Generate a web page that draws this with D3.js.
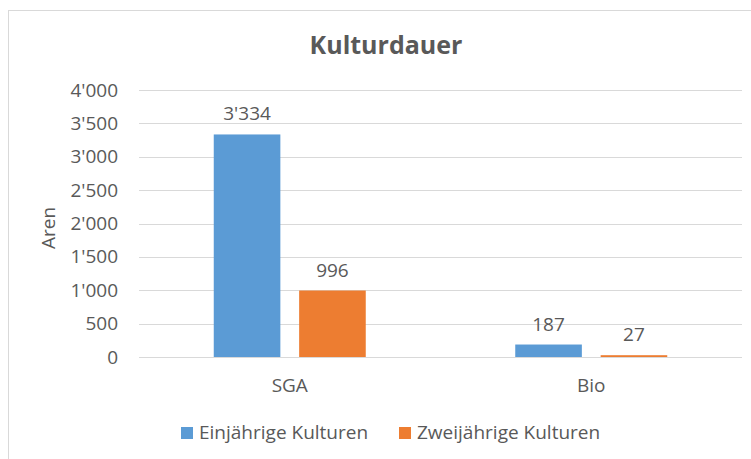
<!DOCTYPE html>
<html>
<head>
<meta charset="utf-8">
<script src="https://cdn.jsdelivr.net/npm/d3@7"></script>
<style>
  body { margin: 0; background: #fff; }
  text { font-family: "Open Sans", "Noto Sans", sans-serif; fill: #595959; }
</style>
</head>
<body>
<div id="chart"></div>
<script>
// Kulturdauer – Aren pro Kulturtyp

var categories = ["SGA", "Bio"];
var seriesNames = ["Einjährige Kulturen", "Zweijährige Kulturen"];
var einjaehrig = [3334, 187];
var zweijaehrig = [996, 27];
var yTicks = [0, 500, 1000, 1500, 2000, 2500, 3000, 3500, 4000];

var colors = ["#5b9bd5", "#ed7d31"];
var fmt = function(v) { return d3.format(",")(v).replace(/,/g, "'"); };

var width = 751, height = 459;
var margin = {top: 90, right: 9, bottom: 102, left: 139};
var fontSize = "19px";

var svg = d3.select("#chart").append("svg")
    .attr("width", width)
    .attr("height", height);

// frame
svg.append("rect")
    .attr("x", 8.5).attr("y", 10.5)
    .attr("width", 800).attr("height", 500)
    .style("fill", "none")
    .style("stroke", "#d9d9d9")
    .style("stroke-width", 1);

var x0 = d3.scaleBand()
    .domain(categories)
    .range([margin.left, width - margin.right]);

var x1 = d3.scaleBand()
    .domain(seriesNames)
    .range([0, 152])
    .paddingInner(0.22);

var y = d3.scaleLinear()
    .domain([0, 4000])
    .range([height - margin.bottom, margin.top]);

// gridlines
svg.append("g")
    .selectAll("line")
    .data(yTicks)
    .enter().append("line")
    .attr("x1", margin.left)
    .attr("x2", width - margin.right)
    .attr("y1", function(d) { return Math.round(y(d)) + 0.5; })
    .attr("y2", function(d) { return Math.round(y(d)) + 0.5; })
    .style("stroke", "#d9d9d9")
    .style("stroke-width", 1);

// y axis
var yAxis = svg.append("g")
    .attr("transform", "translate(" + (margin.left - 21) + ",0)")
    .call(d3.axisLeft(y).tickValues(yTicks).tickSize(0).tickPadding(0).tickFormat(fmt));
yAxis.select(".domain").remove();
yAxis.selectAll("text")
    .style("font-size", fontSize)
    .style("fill", "#595959")
    .style("font-family", "'Open Sans', sans-serif");

// x axis labels
var xAxis = svg.append("g")
    .attr("transform", "translate(0," + (height - margin.bottom) + ")")
    .call(d3.axisBottom(x0).tickSize(0).tickPadding(22));
xAxis.select(".domain").remove();
xAxis.selectAll("text")
    .style("font-size", fontSize)
    .style("fill", "#595959")
    .style("font-family", "'Open Sans', sans-serif");

var rows = categories.map(function(c, i) {
    return {cat: c, values: [
        {name: seriesNames[0], value: einjaehrig[i]},
        {name: seriesNames[1], value: zweijaehrig[i]}
    ]};
});

var groups = svg.append("g").selectAll("g")
    .data(rows)
    .enter().append("g")
    .attr("transform", function(d) {
        return "translate(" + (x0(d.cat) + (x0.bandwidth() - 152) / 2) + ",0)";
    });

groups.selectAll("rect")
    .data(function(d) { return d.values; })
    .enter().append("rect")
    .attr("x", function(d) { return x1(d.name); })
    .attr("width", x1.bandwidth())
    .attr("y", function(d) { return y(d.value); })
    .attr("height", function(d) { return y(0) - y(d.value); })
    .style("fill", function(d, i) { return colors[i]; });

groups.selectAll("text.val")
    .data(function(d) { return d.values; })
    .enter().append("text")
    .attr("class", "val")
    .attr("x", function(d) { return x1(d.name) + x1.bandwidth() / 2; })
    .attr("y", function(d) { return y(d.value) - 14; })
    .attr("text-anchor", "middle")
    .style("font-size", fontSize)
    .text(function(d) { return fmt(d.value); });

// title
svg.append("text")
    .attr("x", 386)
    .attr("y", 54)
    .attr("text-anchor", "middle")
    .style("font-size", "25px")
    .style("font-weight", "bold")
    .text("Kulturdauer");

// y axis title
svg.append("text")
    .attr("transform", "translate(55,228) rotate(-90)")
    .attr("text-anchor", "middle")
    .style("font-size", fontSize)
    .text("Aren");

// legend
var legendX = [181, 399];
var legend = svg.append("g").selectAll("g")
    .data(seriesNames)
    .enter().append("g")
    .attr("transform", function(d, i) { return "translate(" + legendX[i] + ",427)"; });
legend.append("rect")
    .attr("width", 12).attr("height", 12)
    .style("fill", function(d, i) { return colors[i]; });
legend.append("text")
    .attr("x", 18)
    .attr("y", 12)
    .style("font-size", fontSize)
    .text(function(d) { return d; });
</script>
</body>
</html>
